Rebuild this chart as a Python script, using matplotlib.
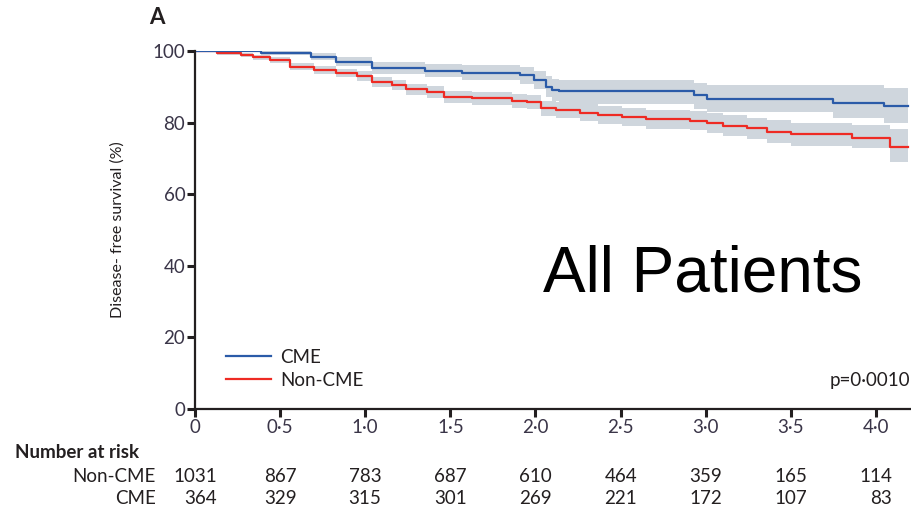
import matplotlib
matplotlib.use("Agg")
import matplotlib.pyplot as plt

plt.rcParams['font.family'] = ['Lato', 'DejaVu Sans']

# Kaplan-Meier steps (years, % disease-free) with 95% CI
t_cme = [0, 0.39, 0.68, 0.83, 1.04, 1.35, 1.57, 1.91, 1.99, 2.06, 2.10, 2.14,
         2.93, 3.01, 3.75, 4.05, 4.19]
s_cme = [100, 99.4, 98.4, 97.0, 95.2, 94.5, 93.9, 93.2, 91.9, 90.0, 89.1, 88.7,
         87.6, 86.6, 85.6, 84.5, 84.5]
lo_cme = [100, 98.8, 97.4, 95.8, 93.6, 92.6, 91.8, 90.9, 89.3, 87.1, 86.0, 85.2,
          83.9, 82.9, 81.4, 79.8, 79.8]
hi_cme = [100, 100, 99.4, 98.2, 96.8, 96.4, 96.0, 95.5, 94.5, 92.9, 92.2, 92.0,
          91.1, 90.5, 90.5, 89.6, 89.6]

t_non = [0, 0.13, 0.27, 0.34, 0.44, 0.56, 0.70, 0.83, 0.95, 1.04, 1.16, 1.24,
         1.36, 1.46, 1.63, 1.86, 1.95, 2.03, 2.12, 2.26, 2.37, 2.51, 2.65, 2.91,
         3.01, 3.10, 3.24, 3.36, 3.50, 3.86, 4.08, 4.19]
s_non = [100, 99.4, 98.9, 98.3, 97.5, 95.6, 94.7, 93.8, 93.0, 91.4, 90.5, 89.3,
         88.6, 87.2, 86.8, 86.1, 85.8, 84.0, 83.5, 82.8, 82.1, 81.5, 80.9, 80.5,
         79.8, 79.1, 78.4, 77.5, 76.7, 75.8, 73.3, 73.3]
lo_non = [100, 99.0, 98.3, 97.6, 96.7, 94.6, 93.6, 92.6, 91.7, 90.0, 89.0, 87.7,
          87.0, 85.5, 85.0, 84.2, 83.8, 81.9, 81.3, 80.5, 79.7, 79.0, 78.3, 77.8,
          77.0, 76.2, 75.4, 74.4, 73.4, 72.8, 69.0, 69.0]
hi_non = [100, 99.8, 99.5, 99.0, 98.3, 96.6, 95.8, 95.0, 94.3, 92.8, 92.0, 90.9,
          90.2, 88.9, 88.6, 88.0, 87.8, 86.1, 85.7, 85.1, 84.5, 84.0, 83.5, 83.2,
          82.6, 82.0, 81.4, 80.6, 80.0, 79.4, 78.2, 78.2]

x_ticks = [0, 0.5, 1.0, 1.5, 2.0, 2.5, 3.0, 3.5, 4.0]
x_labels = ['0', '0·5', '1·0', '1·5', '2·0', '2·5', '3·0', '3·5', '4·0']
y_ticks = [0, 20, 40, 60, 80, 100]
risk_non = [1031, 867, 783, 687, 610, 464, 359, 165, 114]
risk_cme = [364, 329, 315, 301, 269, 221, 172, 107, 83]

txt = '#231f20'
blue = '#2b5ba8'
red = '#ee2b24'
band = '#cfd6dd'
fs = 13.5

fig = plt.figure(figsize=(9.12, 5.07), dpi=100)
ax = fig.add_axes([0.2138, 0.1933, 0.7840, 0.7061])

ax.fill_between(t_non, lo_non, hi_non, step='post', color=band, lw=0)
ax.fill_between(t_cme, lo_cme, hi_cme, step='post', color=band, lw=0)
ax.step(t_non, s_non, where='post', color=red, lw=1.6, label='Non-CME')
ax.step(t_cme, s_cme, where='post', color=blue, lw=1.6, label='CME')

ax.set_xlim(0, 4.2)
ax.set_ylim(0, 100)
ax.set_xticks(x_ticks, x_labels)
ax.set_yticks(y_ticks)
for s in ['top', 'right']:
    ax.spines[s].set_visible(False)
for s in ['left', 'bottom']:
    ax.spines[s].set_linewidth(1.6)
    ax.spines[s].set_color(txt)
ax.tick_params(length=6, width=2.2, color=txt, labelsize=fs,
               labelcolor='#3a3548', pad=1)
ax.set_ylabel('Disease- free survival (%)', fontsize=11.5, color=txt,
              labelpad=20)

h, l = ax.get_legend_handles_labels()
ax.legend(h[::-1], l[::-1], loc='lower left', bbox_to_anchor=(0.02, 0.01),
          frameon=False, fontsize=fs, handlelength=2.4, labelspacing=0.3,
          handletextpad=0.5, labelcolor=txt)

ax.text(1.0, 0.08, 'p=0·0010', transform=ax.transAxes, ha='right',
        va='center', fontsize=fs, color=txt)
ax.text(0.71, 0.375, 'All Patients', transform=ax.transAxes, ha='center',
        va='center', fontsize=46, color='black', family='Liberation Sans')
fig.text(0.164, 0.966, 'A', ha='left', va='center', fontsize=16,
         fontweight='bold', color=txt)

# number-at-risk table under the time axis
fig.text(0.016, 0.108, 'Number at risk', ha='left', va='center', fontsize=fs,
         fontweight='bold', color=txt)
fig.text(0.171, 0.061, 'Non-CME', ha='right', va='center', fontsize=fs, color=txt)
fig.text(0.171, 0.017, 'CME', ha='right', va='center', fontsize=fs, color=txt)
trans = ax.get_xaxis_transform()
digit = fs * 0.58
row_non = (0.061 - 0.1933) / 0.7061
row_cme = (0.017 - 0.1933) / 0.7061
for xt, a, b in zip(x_ticks, risk_non, risk_cme):
    half = len(str(a)) * digit / 2
    ax.annotate(str(a), (xt, row_non), xycoords=trans, ha='center',
                va='center', fontsize=fs, color=txt, annotation_clip=False)
    ax.annotate(str(b), (xt, row_cme), xycoords=trans, xytext=(half, 0),
                textcoords='offset points', ha='right', va='center',
                fontsize=fs, color=txt, annotation_clip=False)

fig.savefig('out.png', dpi=100, facecolor='white')
